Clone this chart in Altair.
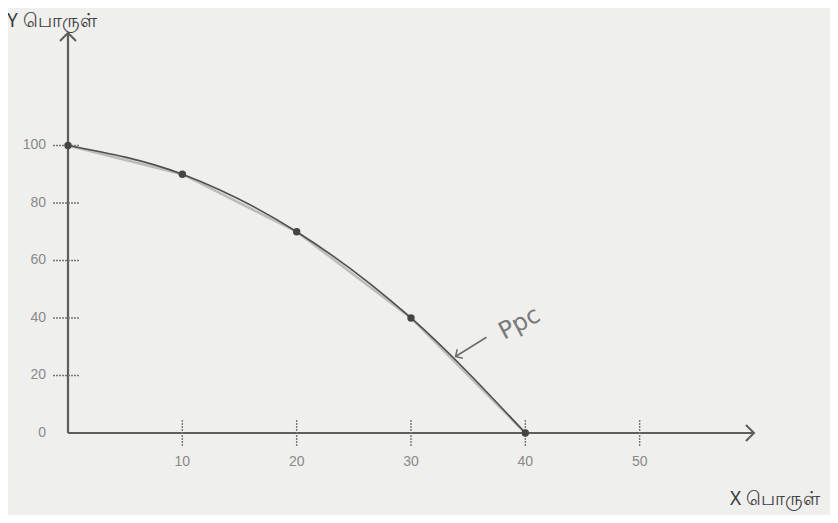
import altair as alt
import pandas as pd

# PPC schedule
x_goods = [0, 10, 20, 30, 40]
y_goods = [100, 90, 70, 40, 0]
# axis ticks / labels
x_ticks = [10, 20, 30, 40, 50]
y_ticks = [20, 40, 60, 80, 100]
y_label_vals = [0, 20, 40, 60, 80, 100]

X_MAX = 60
Y_MAX = 139.1
W, H = 686, 400

BG = "#efefed"
AX = "#5e5e5e"
CURVE = "#4f4f4f"
LBL = "#8a8a8a"

xs = alt.Scale(domain=[0, X_MAX], nice=False, zero=False)
ys = alt.Scale(domain=[0, Y_MAX], nice=False, zero=False)

def X(f="x"):
    return alt.X(f"{f}:Q", scale=xs, axis=None)

def Y(f="y"):
    return alt.Y(f"{f}:Q", scale=ys, axis=None)

ppc = pd.DataFrame({"x": x_goods, "y": y_goods})
axis_df = pd.DataFrame({"x": [0], "y": [0], "xe": [X_MAX], "ye": [Y_MAX]})

# axes lines
x_axis = alt.Chart(axis_df).mark_rule(color=AX, strokeWidth=2.2).encode(
    x=X("x"), x2="xe:Q", y=Y("y"))
y_axis = alt.Chart(axis_df).mark_rule(color=AX, strokeWidth=2.2).encode(
    x=X("x"), y=Y("y"), y2="ye:Q")

chev = "M -1 -1 L 0 0 L -1 1"
x_arrow = alt.Chart(axis_df).mark_point(shape=chev, filled=False, color=AX,
                                        strokeWidth=2, size=260, opacity=1).encode(
    x=X("xe"), y=Y("y"), angle=alt.value(0))
y_arrow = alt.Chart(axis_df).mark_point(shape=chev, filled=False, color=AX,
                                        strokeWidth=2, size=260, opacity=1).encode(
    x=X("x"), y=Y("ye"), angle=alt.value(270))

# tick marks crossing the axes
xt_df = pd.DataFrame({"x": x_ticks, "lab": [str(v) for v in x_ticks]})
yt_df = pd.DataFrame({"y": y_ticks})
yl_df = pd.DataFrame({"y": y_label_vals, "lab": [str(v) for v in y_label_vals]})

x_tick_marks = alt.Chart(xt_df).mark_rule(color="#777777", strokeWidth=1.4,
                                          strokeDash=[2, 1]).encode(
    x=X("x"), y=alt.value(H - 13), y2=alt.value(H + 14))
y_tick_marks = alt.Chart(yt_df).mark_rule(color="#777777", strokeWidth=1.4,
                                          strokeDash=[2, 1]).encode(
    y=Y("y"), x=alt.value(-15), x2=alt.value(12))

x_tick_labels = alt.Chart(xt_df).mark_text(font="Liberation Sans", fontSize=14,
                                           color=LBL, baseline="middle",
                                           align="center").encode(
    x=X("x"), y=alt.value(H + 29), text="lab:N")
y_tick_labels = alt.Chart(yl_df).mark_text(font="Liberation Sans", fontSize=14,
                                           color=LBL, baseline="middle",
                                           align="right").encode(
    y=Y("y"), x=alt.value(-22), text="lab:N")

# faint sketch (straight segments) and the smooth PPC curve
sketch = alt.Chart(ppc).mark_line(color="#9a9a9a", strokeWidth=2.5,
                                  opacity=0.6).encode(x=X(), y=Y())
curve = alt.Chart(ppc).mark_line(color=CURVE, strokeWidth=1.6,
                                 interpolate="monotone").encode(x=X(), y=Y())
dots = alt.Chart(ppc).mark_circle(color="#454545", size=55, opacity=1).encode(
    x=X(), y=Y())

# PPC annotation
ann_df = pd.DataFrame({"x": [36.6], "y": [33.3], "x2": [33.9], "y2": [26.6],
                       "tx": [39.5], "ty": [38.0], "lab": ["Ppc"]})
ann_line = alt.Chart(ann_df).mark_rule(color="#6a6a6a", strokeWidth=1.5).encode(
    x=X("x"), y=Y("y"), x2="x2:Q", y2="y2:Q")
ann_head = alt.Chart(ann_df).mark_point(shape=chev, filled=False, color="#6a6a6a",
                                        strokeWidth=1.5, size=110, opacity=1).encode(
    x=X("x2"), y=Y("y2"), angle=alt.value(148))
ann_text = alt.Chart(ann_df).mark_text(font="DejaVu Sans", fontSize=24,
                                       color="#7a7a7a", angle=332,
                                       baseline="middle", align="center").encode(
    x=X("tx"), y=Y("ty"), text="lab:N")

# axis titles
title_df = pd.DataFrame({"lab": ["Y பொருள்", "X பொருள்"]})
y_title = alt.Chart(title_df.iloc[[0]]).mark_text(
    font="Noto Sans", fontSize=19, color="#3c3c3c", align="left",
    baseline="middle").encode(x=alt.value(-61), y=alt.value(-12), text="lab:N")
x_title = alt.Chart(title_df.iloc[[1]]).mark_text(
    font="Noto Sans", fontSize=19, color="#3c3c3c", align="left",
    baseline="middle").encode(x=alt.value(662), y=alt.value(H + 66), text="lab:N")

chart = alt.layer(
    sketch, curve, x_axis, y_axis, x_arrow, y_arrow,
    x_tick_marks, y_tick_marks, x_tick_labels, y_tick_labels,
    dots, ann_line, ann_head, ann_text, y_title, x_title,
).properties(
    width=W, height=H,
    padding={"left": 60, "top": 25, "right": 76, "bottom": 82},
    autosize=alt.AutoSizeParams(type="none"),
    background=BG,
).configure_view(stroke=None)

chart.save("out.html", embed_options={"renderer": "svg", "actions": False})
